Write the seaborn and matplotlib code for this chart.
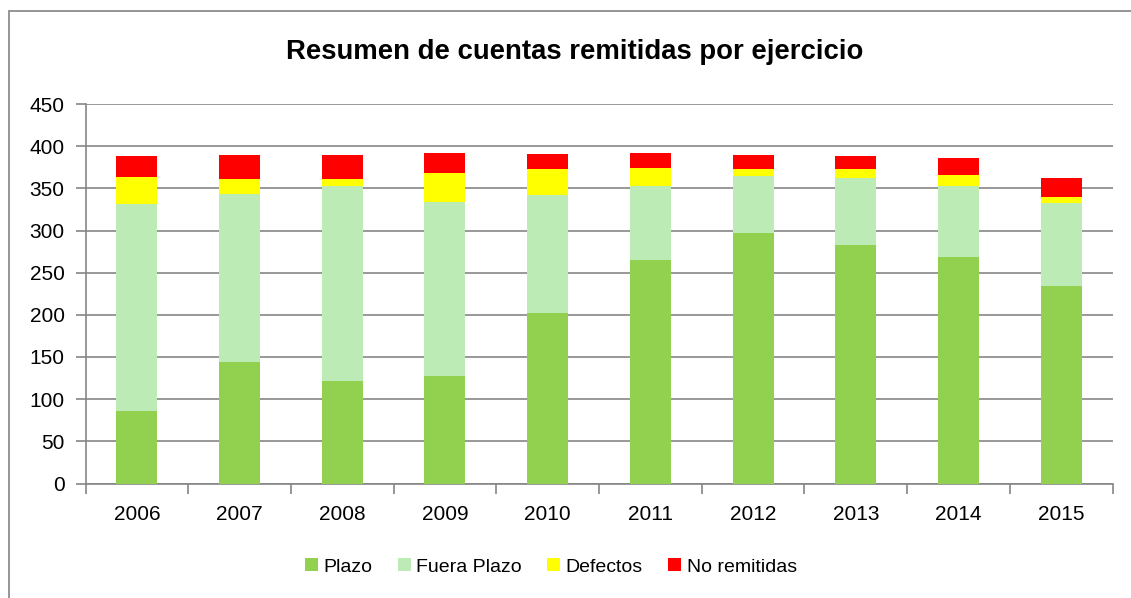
import matplotlib
matplotlib.use("Agg")
import matplotlib.pyplot as plt
from matplotlib.patches import Patch, Rectangle
import seaborn as sns
import pandas as pd
import numpy as np

# --- Datos ---
ejercicios = ["2006", "2007", "2008", "2009", "2010", "2011", "2012", "2013", "2014", "2015"]
plazo = [86, 144, 121, 128, 202, 265, 297, 283, 268, 234]
fuera_plazo = [246, 199, 232, 206, 140, 88, 68, 79, 85, 99]
defectos = [32, 18, 8, 34, 31, 21, 8, 11, 13, 7]
no_remitidas = [24, 28, 29, 24, 18, 18, 16, 15, 20, 22]

series = ["Plazo", "Fuera Plazo", "Defectos", "No remitidas"]
colores = ["#92D050", "#BCEBB6", "#FFFF00", "#FF0000"]

sns.set_style("white")
plt.rcParams["font.family"] = ["Liberation Sans", "DejaVu Sans"]
plt.rcParams["text.color"] = "black"
plt.rcParams["xtick.labelcolor"] = "black"
plt.rcParams["ytick.labelcolor"] = "black"

df = pd.DataFrame({"ejercicio": ejercicios, "Plazo": plazo, "Fuera Plazo": fuera_plazo,
                   "Defectos": defectos, "No remitidas": no_remitidas})
acum = df[series].cumsum(axis=1)

W, H = 1131, 598
fig = plt.figure(figsize=(W / 100, H / 100), dpi=100)
fig.patch.set_facecolor("white")

# marco exterior del gráfico
fig.add_artist(Rectangle((9 / W, -0.1), 1.2, (H - 11) / H + 0.1, transform=fig.transFigure,
                         fill=False, edgecolor="#8C8C8C", linewidth=1.3))

ax = fig.add_axes([85.5 / W, (H - 483.5) / H, 1027 / W, (483.5 - 104) / H])

# barras apiladas: se dibuja de la más alta a la más baja
for serie, color in reversed(list(zip(series, colores))):
    sns.barplot(x=df["ejercicio"], y=acum[serie], color=color, saturation=1,
                width=0.4, ax=ax, zorder=3, edgecolor="none")

ax.set_xlim(-0.5, len(ejercicios) - 0.5)
ax.set_ylim(0, 450)
ax.set_yticks(np.arange(0, 451, 50))
ax.yaxis.grid(True, color="#868686", linewidth=1.2, zorder=0)
ax.set_axisbelow(True)
ax.set_xlabel("")
ax.set_ylabel("")

for s in ["top", "right"]:
    ax.spines[s].set_visible(False)
for s in ["left", "bottom"]:
    ax.spines[s].set_color("#868686")
    ax.spines[s].set_linewidth(1.2)

ax.tick_params(axis="y", left=True, length=7, width=1.2, color="#868686",
               labelsize=15, pad=8)
ax.tick_params(axis="x", bottom=False, labelsize=15, pad=12)
ax.set_xticks(np.arange(-0.5, len(ejercicios), 1), minor=True)
ax.tick_params(axis="x", which="minor", bottom=True, length=7, width=1.2, color="#868686")

fig.text(575 / W, (H - 52) / H, "Resumen de cuentas remitidas por ejercicio",
         ha="center", va="center", fontsize=19.8, fontweight="bold")

handles = [Patch(facecolor=c, edgecolor="none", label=s) for s, c in zip(series, colores)]
fig.legend(handles=handles, loc="center", bbox_to_anchor=(551 / W, (H - 567) / H),
           ncol=4, frameon=False, fontsize=14, handlelength=0.65, handleheight=0.65,
           handletextpad=0.3, columnspacing=1.3)

plt.savefig("out.png", dpi=100)
